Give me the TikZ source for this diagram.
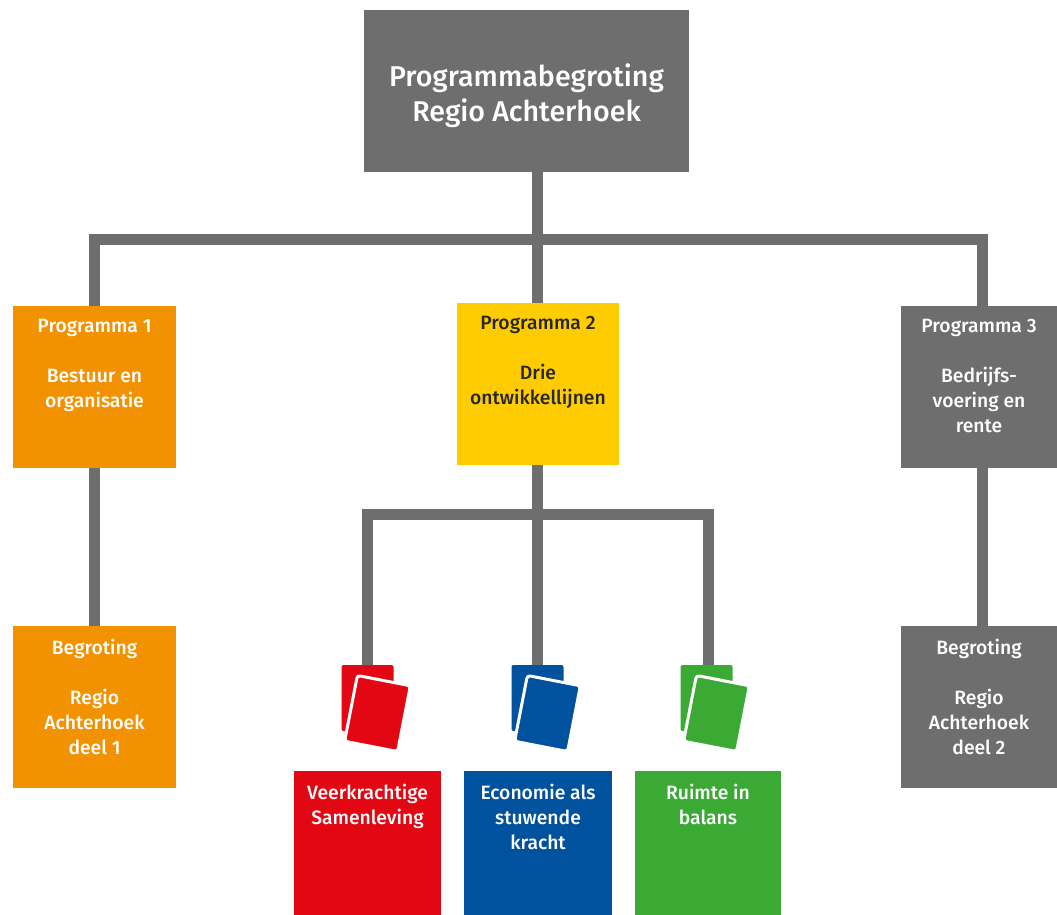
\documentclass[tikz,border=0pt]{standalone}
\usepackage{fontspec}
\setmainfont{Fira Sans}[UprightFont=* Medium]
\definecolor{grayb}{HTML}{6F6E6F}
\definecolor{orangeb}{HTML}{F39200}
\definecolor{yellowb}{HTML}{FFCC00}
\definecolor{redb}{HTML}{E30613}
\definecolor{blueb}{HTML}{00519E}
\definecolor{greenb}{HTML}{3AAA35}
\newcommand{\boxtxt}[4]{\parbox[c][#2pt][t]{#1pt}{\centering\fontsize{19.3}{25}\selectfont\vspace*{#3pt}#4\par}}
\newcommand{\toptxt}[4]{\parbox[c][#2pt][t]{#1pt}{\centering\fontsize{28.6}{35}\selectfont\vspace*{#3pt}#4\par}}
\tikzset{
  box/.style={fill=#1,inner sep=0pt,outer sep=0pt,text=white,align=center},
  conn/.style={draw=grayb,line width=11pt},
  cardback/.style={fill=#1,rounded corners=2pt,minimum width=52pt,minimum height=66pt,inner sep=0pt,outer sep=0pt},
  cardfront/.style={fill=#1,draw=white,line width=3pt,rounded corners=3pt,minimum width=54pt,minimum height=67pt,inner sep=0pt,rotate=-11},
}
\begin{document}
\begin{tikzpicture}[x=1pt,y=-1pt]
\useasboundingbox (0,0) rectangle (1057,915);
% boxes
\node[box=grayb] (top) at (526.5,91) {\toptxt{325}{162}{54}{Programmabegroting\\Regio Achterhoek}};
\node[box=orangeb] (p1) at (94.5,387) {\boxtxt{163}{162}{13}{Programma 1\\[25pt]Bestuur en\\organisatie}};
\node[box=yellowb,text=black!85] (p2) at (538,384) {\boxtxt{162}{162}{13}{Programma 2\\[25pt]Drie\\ontwikkellijnen}};
\node[box=grayb] (p3) at (979,387) {\boxtxt{156}{162}{13}{Programma 3\\[25pt]Bedrijfs-\\voering en\\rente}};
\node[box=orangeb] (b1) at (94.5,707) {\boxtxt{163}{162}{13}{Begroting\\[25pt]Regio\\Achterhoek\\deel 1}};
\node[box=grayb] (b2) at (979,707) {\boxtxt{156}{162}{13}{Begroting\\[25pt]Regio\\Achterhoek\\deel 2}};
\node[box=redb] (vs) at (367.5,843) {\boxtxt{147}{144}{13}{Veerkrachtige\\Samenleving}};
\node[box=blueb] (ek) at (538,843) {\boxtxt{148}{144}{13}{Economie als\\stuwende\\kracht}};
\node[box=greenb] (rb) at (708,843) {\boxtxt{146}{144}{13}{Ruimte in\\balans}};
% junctions
\coordinate (j1) at (537,239);
\coordinate (j2) at (537,514);
% cards back
\node[cardback=redb] (cr) at (367.5,698) {};
\node[cardback=blueb] (cb) at (537.5,698) {};
\node[cardback=greenb] (cg) at (706.5,698) {};
% connectors
\draw[conn] (top.south -| j1) -- (j1);
\draw[conn] (j1) -- (p2.north -| j1);
\draw[conn] (j1) -| (p1.north);
\draw[conn] (j1) -| ([xshift=3pt]p3.north);
\draw[conn] (p1.south) -- (b1.north);
\draw[conn] ([xshift=3pt]p3.south) -- ([xshift=3pt]b2.north);
\draw[conn] (p2.south -| j2) -- (j2);
\draw[conn] (j2) -- (cb.north -| j2);
\draw[conn] (j2) -| (cr.north);
\draw[conn] (j2) -| ([xshift=1.5pt]cg.north);
% cards front
\node[cardfront=redb] (fr) at (377.5,713.5) {};
\node[cardfront=blueb] (fb) at (547.5,713.5) {};
\node[cardfront=greenb] (fg) at (716.5,713.5) {};
\end{tikzpicture}
\end{document}
